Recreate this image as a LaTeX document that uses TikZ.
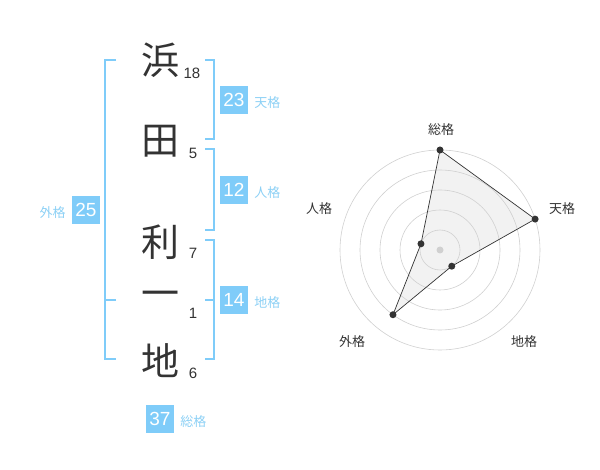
\documentclass[tikz,border=0pt]{standalone}
\usepackage{fontspec}
\usetikzlibrary{positioning}
\setmainfont{Liberation Sans}
\newfontfamily\jp{Noto Sans CJK JP}
\definecolor{kakublue}{RGB}{127,204,249}
\definecolor{kakutext}{RGB}{140,208,245}
\definecolor{inkgray}{RGB}{51,51,51}
\definecolor{ringgray}{RGB}{208,208,208}
\definecolor{fillgray}{RGB}{242,242,242}
\begin{document}
\begin{tikzpicture}
		[x=1pt,y=-1pt,
		kanji/.style={font=\jp\fontsize{38}{38}\selectfont,text=inkgray,inner sep=0pt},
		strokes/.style={font=\fontsize{15}{15}\selectfont,text=inkgray,inner sep=0pt},
		kakubox/.style={fill=kakublue,text=white,font=\fontsize{19}{19}\selectfont,minimum size=28pt,inner sep=0pt},
		kakuname/.style={font=\jp\fontsize{13}{13}\selectfont,text=kakutext,inner sep=0pt,yshift=-3pt},
		bracket/.style={draw=kakublue,line width=1.5pt},
		ring/.style={draw=ringgray,line width=0.6pt},
		dot/.style={circle,fill=inkgray,inner sep=0pt,minimum size=7pt},
		axisname/.style={font=\jp\fontsize{13}{13}\selectfont,text=inkgray,inner sep=0pt}]
		\useasboundingbox (0,0) rectangle (600,470);
		% name and strokes
		\node[kanji] (c1) at (160,60) {浜};
		\node[kanji] (c2) at (160,141) {田};
		\node[kanji] (c3) at (160,242) {利};
		\node[kanji] (c4) at (160,299) {一};
		\node[kanji] (c5) at (160,361) {地};
		\node[strokes] (n1) at (192,73) {18};
		\node[strokes] (n2) at (193,153) {5};
		\node[strokes] (n3) at (193,253) {7};
		\node[strokes] (n4) at (193,313) {1};
		\node[strokes] (n5) at (193,373) {6};
		% brackets
		\coordinate (tenA) at (205,60);
		\coordinate (tenB) at (205,139);
		\coordinate (jinA) at (205,149);
		\coordinate (jinB) at (205,230);
		\coordinate (chiA) at (205,240);
		\coordinate (chiM) at (205,300);
		\coordinate (chiB) at (205,359);
		\coordinate (gaiA) at (116,60);
		\coordinate (gaiM) at (116,300);
		\coordinate (gaiB) at (116,359);
		\draw[bracket] (tenA) -| (214,139) -- (tenB);
		\draw[bracket] (jinA) -| (214,230) -- (jinB);
		\draw[bracket] (chiA) -| (214,359) -- (chiB);
		\draw[bracket] (chiM) -- (214,300);
		\draw[bracket] (gaiA) -| (105,359) -- (gaiB);
		\draw[bracket] (gaiM) -- (105,300);
		% values
		\node[kakubox] (ten) at (234,100) {23};
		\node[kakuname,right=6pt of ten] {天格};
		\node[kakubox] (jin) at (234,190) {12};
		\node[kakuname,right=6pt of jin] {人格};
		\node[kakubox] (chi) at (234,300) {14};
		\node[kakuname,right=6pt of chi] {地格};
		\node[kakubox] (gai) at (86,210) {25};
		\node[kakuname,left=6pt of gai] {外格};
		\node[kakubox] (sou) at (160,419) {37};
		\node[kakuname,right=6pt of sou] {総格};
		% radar
		\begin{scope}[shift={(440,250)},yscale=-1]
			\coordinate (rSou) at (90:100);
			\coordinate (rTen) at (18:100);
			\coordinate (rChi) at (-54:20);
			\coordinate (rGai) at (-126:80);
			\coordinate (rJin) at (162:20);
			\fill[fillgray] (rSou) -- (rTen) -- (rChi) -- (rGai) -- (rJin) -- cycle;
			\foreach \r in {20,40,...,100}
				\draw[ring] (0,0) circle (\r);
			\draw[inkgray,line width=0.7pt] (rSou) -- (rTen) -- (rChi) -- (rGai) -- (rJin) -- cycle;
			\node[dot,fill=ringgray] (ctr) at (0,0) {};
			\foreach \p in {rSou,rTen,rChi,rGai,rJin}
				\node[dot] at (\p) {};
		\end{scope}
		\node[axisname] at (441,130) {総格};
		\node[axisname] at (562,209) {天格};
		\node[axisname] at (319,209) {人格};
		\node[axisname] at (352,342) {外格};
		\node[axisname] at (524,342) {地格};
	\end{tikzpicture}
\end{document}
